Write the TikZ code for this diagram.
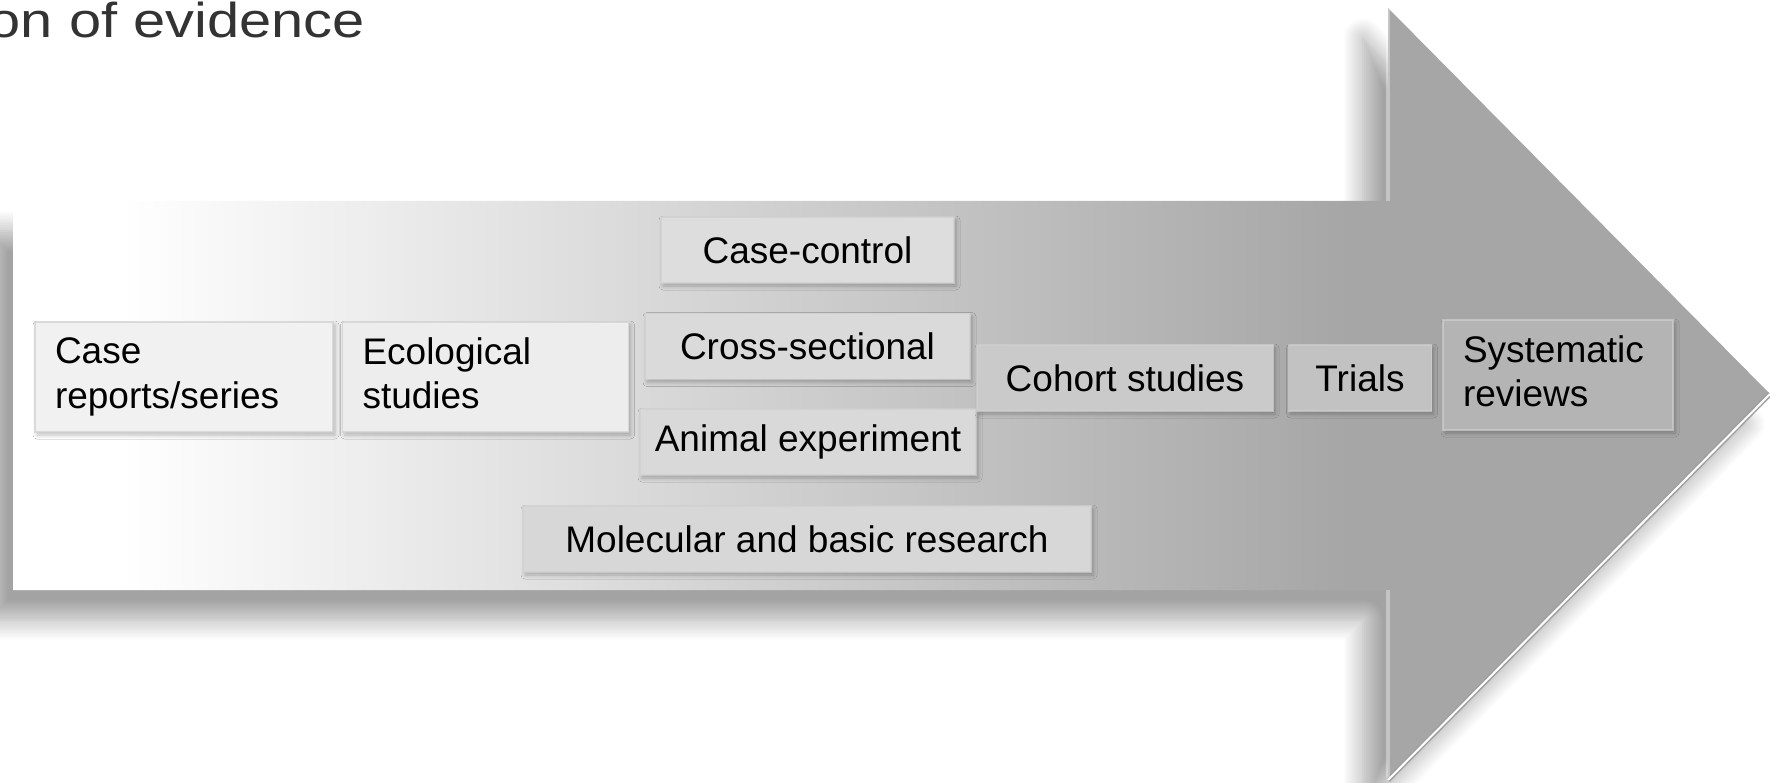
\documentclass[tikz,border=0pt]{standalone}
\usepackage{fontspec}
\usepackage{graphicx}
\setmainfont{Liberation Sans}
\usetikzlibrary{positioning,shadows.blur}

\definecolor{arrowgray}{HTML}{A6A6A6}
\definecolor{titlegray}{HTML}{333333}
\definecolor{boxline}{HTML}{D0D0D0}
\definecolor{fillcase}{HTML}{F1F1F1}
\definecolor{fillecol}{HTML}{EDEDED}
\definecolor{fillcctrl}{HTML}{DDDDDD}
\definecolor{fillxsec}{HTML}{DADADA}
\definecolor{fillanimal}{HTML}{D9D9D9}
\definecolor{fillmolec}{HTML}{D7D7D7}
\definecolor{fillcohort}{HTML}{CACACA}
\definecolor{filltrials}{HTML}{C2C2C2}
\definecolor{fillsysrev}{HTML}{B4B4B4}

% background of the big arrow: white on the left, gray towards the head
\pgfdeclarehorizontalshading{arrowfade}{100bp}{color(0bp)=(white); color(28bp)=(white); color(63bp)=(arrowgray); color(100bp)=(arrowgray)}

\tikzset{
  studybox/.style={draw=boxline, draw opacity=0.7, line width=1.5pt, inner sep=0pt,
    minimum height=66pt, font=\fontsize{37}{44.4}\selectfont,
    blur shadow={shadow xshift=2pt, shadow yshift=-3pt, shadow blur radius=4pt, shadow opacity=25}},
  widebox/.style={studybox, minimum height=110pt, inner xsep=20pt, align=left, text width=#1},
}

\begin{document}
\begin{tikzpicture}[x=1pt,y=-1pt]
  \useasboundingbox (0,0) rectangle (1770,783);

  % arrow outline
  \coordinate (shafttl) at (13,201);
  \coordinate (notchtop) at (1388,201);
  \coordinate (headtop) at (1388,8);
  \coordinate (tip) at (1770,394);
  \coordinate (headbot) at (1388,780);
  \coordinate (notchbot) at (1388,590);
  \coordinate (shaftbl) at (13,590);

  \path[shade, shading=arrowfade,
    blur shadow={shadow xshift=-25pt, shadow yshift=-30pt, shadow blur radius=20pt,
      shadow blur steps=12, shadow opacity=36}]
    (shafttl) -- (notchtop) -- (headtop) -- (tip) -- (headbot) -- (notchbot) -- (shaftbl) -- cycle;

  % bevel edges
  \draw[gray!75, line width=5pt] (tip) -- (headbot);
  \draw[white, line width=2pt] (tip) -- (headbot);
  \draw[white, opacity=0.35, line width=4pt] (headtop) -- (notchtop);
  \draw[white, opacity=0.35, line width=4pt] (notchbot) -- (headbot);

  \node[anchor=base east, text=titlegray, inner sep=0pt, font=\fontsize{49}{58}\selectfont]
    (title) at (365,38) {\scalebox{1.18}[1]{on of evidence}};

  \node[widebox=258pt, fill=fillcase] (casrep) at (184,377) {Case\\reports/series};
  \node[widebox=246pt, fill=fillecol, right=8pt of casrep] (ecol) {Ecological\\studies\vphantom{p}};

  \node[studybox, fill=fillcctrl, minimum width=293pt] (cctrl) at (807.5,250) {Case-control};
  \node[studybox, fill=fillxsec, minimum width=325pt] (xsec) at (807.5,346.5) {Cross-sectional};
  \node[studybox, fill=fillanimal, minimum width=336pt] (animal) at (808,442) {Animal experiment};
  \node[studybox, fill=fillmolec, minimum width=568pt] (molec) at (807,539) {Molecular and basic research};

  \node[studybox, fill=fillcohort, minimum width=296pt] (cohort) at (1125,378) {Cohort studies};
  \node[studybox, fill=filltrials, minimum width=143pt, right=14pt of cohort] (trials) {Trials};
  \node[widebox=190pt, fill=fillsysrev, right=10pt of trials, yshift=3pt] (sysrev) {Systematic\\reviews\vphantom{p}};
\end{tikzpicture}
\end{document}
